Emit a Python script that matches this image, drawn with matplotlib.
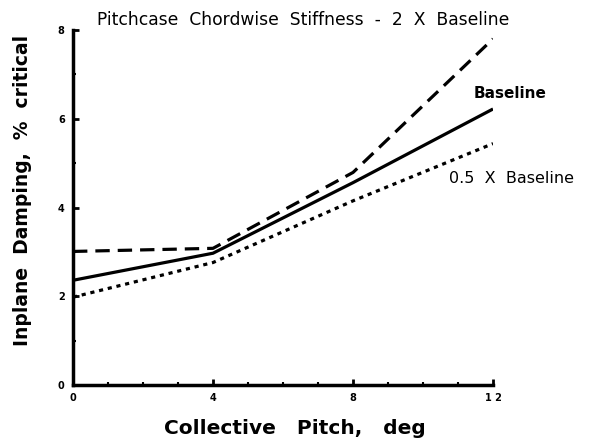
import matplotlib
matplotlib.use("Agg")
import matplotlib.pyplot as plt
from matplotlib.ticker import MultipleLocator

plt.rcParams['font.family'] = ['DejaVu Sans']

pitch = [0, 4, 8, 12]
baseline = [2.36, 2.97, 4.56, 6.22]
stiff_2x = [3.01, 3.08, 4.79, 7.8]
stiff_half = [1.98, 2.76, 4.15, 5.44]

fig = plt.figure(figsize=(5.95, 4.45), dpi=100)
ax = fig.add_axes([0.1227, 0.1348, 0.7059, 0.7978])

ax.plot(pitch, baseline, color='black', lw=2.3, solid_capstyle='butt')
ax.plot(pitch, stiff_2x, color='black', lw=2.3, dashes=(4.5, 2.5))
ax.plot(pitch, stiff_half, color='black', lw=2.3, dashes=(1.3, 1.5))

ax.set_xlim(0, 12)
ax.set_ylim(0, 8)
ax.xaxis.set_minor_locator(MultipleLocator(1))
ax.yaxis.set_minor_locator(MultipleLocator(1))
for s in ['top', 'right']:
    ax.spines[s].set_visible(False)
for s in ['left', 'bottom']:
    ax.spines[s].set_linewidth(2.5)
ax.tick_params(which='major', direction='in', length=4, width=2, labelsize=7, pad=6)
ax.tick_params(which='minor', direction='in', length=2, width=1.5)
ax.set_xticks([0, 4, 8, 12])
ax.set_xticklabels(['0', '4', '8', '1 2'], fontweight='bold')
ax.set_yticks([0, 2, 4, 6, 8])
ax.set_yticklabels(['0', '2', '4', '6', '8'], fontweight='bold')

ax.set_xlabel('Collective   Pitch,   deg', fontsize=14.5, fontweight='bold', labelpad=12)
ax.xaxis.set_label_coords(0.529, -0.095)
ax.set_ylabel('Inplane  Damping,  %  critical', fontsize=13.5, fontweight='bold')
ax.yaxis.set_label_coords(-0.098, 0.548)

fig.text(0.509, 0.955, 'Pitchcase  Chordwise  Stiffness  -  2  X  Baseline',
         ha='center', va='center', fontsize=12.3)
ax.text(11.46, 6.56, 'Baseline', ha='left', va='center', fontsize=11, fontweight='bold')
ax.text(10.75, 4.65, '0.5  X  Baseline', ha='left', va='center', fontsize=11.5)

fig.savefig('out.png', dpi=100)
